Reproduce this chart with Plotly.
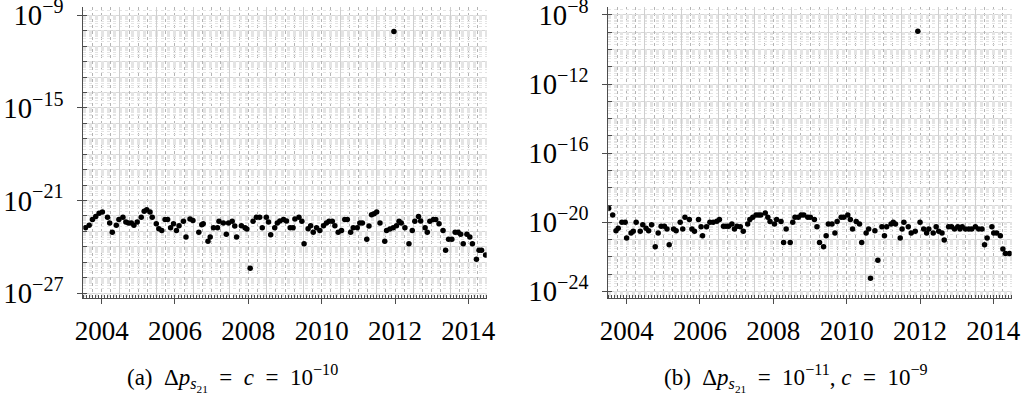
import plotly.graph_objects as go

# ---- data (decimal year, log10 of value) ----
a_years = [2003.56, 2003.66, 2003.75, 2003.84, 2003.93, 2004.02, 2004.16, 2004.22, 2004.29, 2004.40,
           2004.47, 2004.58, 2004.66, 2004.73, 2004.81, 2004.88, 2004.97, 2005.08, 2005.16, 2005.23,
           2005.32, 2005.38, 2005.49, 2005.56, 2005.64, 2005.73, 2005.80, 2005.88, 2005.96, 2006.04,
           2006.11, 2006.23, 2006.30, 2006.41, 2006.49, 2006.65, 2006.73, 2006.77, 2006.90, 2006.96,
           2007.05, 2007.16, 2007.20, 2007.32, 2007.40, 2007.46, 2007.56, 2007.63, 2007.68, 2007.81,
           2007.91, 2007.96, 2008.05, 2008.13, 2008.22, 2008.31, 2008.38, 2008.49, 2008.55, 2008.61,
           2008.72, 2008.79, 2008.86, 2008.96, 2009.04, 2009.14, 2009.22, 2009.27, 2009.38, 2009.46,
           2009.52, 2009.63, 2009.70, 2009.77, 2009.86, 2009.95, 2010.05, 2010.13, 2010.20, 2010.29,
           2010.36, 2010.45, 2010.54, 2010.63, 2010.70, 2010.79, 2010.86, 2010.97, 2011.04, 2011.11,
           2011.23, 2011.29, 2011.36, 2011.43, 2011.50, 2011.59, 2011.72, 2011.77, 2011.86, 2011.95,
           2011.97, 2012.04, 2012.11, 2012.17, 2012.27, 2012.38, 2012.47, 2012.54, 2012.64, 2012.70,
           2012.82, 2012.88, 2012.95, 2013.05, 2013.11, 2013.20, 2013.31, 2013.38, 2013.46, 2013.55,
           2013.64, 2013.72, 2013.79, 2013.86, 2013.96, 2014.04, 2014.11, 2014.22, 2014.29, 2014.36,
           2014.47]
a_log10 = [-22.76, -22.61, -22.23, -22.03, -21.82, -21.75, -22.08, -22.46, -23.06, -22.61,
           -22.23, -22.08, -22.40, -22.46, -22.46, -22.61, -22.40, -22.08, -21.69, -21.60,
           -21.75, -22.08, -22.51, -22.83, -22.94, -22.23, -22.23, -22.76, -22.51, -22.94,
           -22.63, -22.35, -23.37, -22.20, -22.29, -23.06, -22.57, -22.51, -23.65, -23.37,
           -22.76, -22.76, -22.35, -22.46, -23.19, -22.46, -22.35, -22.66, -23.37, -22.63,
           -22.76, -22.85, -25.39, -22.35, -22.08, -22.08, -22.76, -22.08, -22.40, -23.22,
           -22.76, -22.46, -22.33, -22.23, -22.33, -22.76, -22.76, -22.20, -22.08, -22.35,
           -23.80, -22.83, -22.63, -23.06, -22.76, -22.94, -22.63, -22.46, -22.35, -22.35,
           -22.63, -23.06, -22.94, -22.23, -22.23, -23.06, -22.76, -22.76, -22.46, -22.46,
           -23.52, -22.66, -21.92, -21.86, -21.75, -22.46, -23.65, -22.94, -22.85, -22.76,
           -10.05, -22.63, -22.35, -22.46, -22.76, -23.80, -22.94, -22.35, -22.03, -22.33,
           -22.76, -23.06, -22.35, -22.23, -22.23, -22.51, -22.94, -24.23, -23.52, -23.52,
           -23.06, -23.06, -23.19, -23.80, -23.19, -23.37, -23.80, -24.81, -24.23, -24.23,
           -24.53]

b_years = [2003.51, 2003.62, 2003.71, 2003.77, 2003.87, 2003.96, 2004.00, 2004.12, 2004.18, 2004.26,
           2004.37, 2004.44, 2004.53, 2004.60, 2004.68, 2004.78, 2004.86, 2004.94, 2005.03, 2005.10,
           2005.16, 2005.28, 2005.35, 2005.46, 2005.53, 2005.59, 2005.71, 2005.78, 2005.85, 2005.96,
           2006.03, 2006.07, 2006.18, 2006.27, 2006.36, 2006.46, 2006.53, 2006.64, 2006.71, 2006.78,
           2006.87, 2006.94, 2007.01, 2007.10, 2007.18, 2007.30, 2007.36, 2007.44, 2007.53, 2007.60,
           2007.66, 2007.78, 2007.85, 2007.91, 2008.03, 2008.09, 2008.21, 2008.28, 2008.35, 2008.46,
           2008.53, 2008.59, 2008.68, 2008.76, 2008.83, 2008.94, 2009.01, 2009.12, 2009.19, 2009.26,
           2009.37, 2009.44, 2009.50, 2009.60, 2009.68, 2009.74, 2009.85, 2009.92, 2010.03, 2010.10,
           2010.16, 2010.26, 2010.35, 2010.41, 2010.53, 2010.60, 2010.65, 2010.77, 2010.85, 2010.96,
           2011.03, 2011.09, 2011.21, 2011.27, 2011.33, 2011.46, 2011.51, 2011.56, 2011.68, 2011.76,
           2011.87, 2011.94, 2012.00, 2012.10, 2012.18, 2012.24, 2012.36, 2012.44, 2012.51, 2012.60,
           2012.66, 2012.78, 2012.86, 2012.94, 2013.03, 2013.09, 2013.15, 2013.24, 2013.33, 2013.41,
           2013.51, 2013.60, 2013.69, 2013.76, 2013.83, 2013.96, 2014.01, 2014.09, 2014.19, 2014.26,
           2014.33, 2014.44]
b_log10 = [-19.18, -19.57, -20.49, -20.35, -20.00, -20.00, -20.91, -20.62, -20.52, -20.00,
           -20.52, -20.14, -20.35, -20.49, -20.14, -21.42, -20.62, -20.23, -20.23, -20.39,
           -21.30, -20.39, -20.49, -20.00, -20.39, -19.71, -19.84, -20.39, -20.52, -19.84,
           -20.25, -20.78, -20.25, -20.00, -20.00, -19.94, -19.84, -20.23, -20.23, -20.23,
           -20.10, -20.39, -20.23, -20.25, -20.52, -20.10, -19.84, -19.71, -19.57, -19.57,
           -19.57, -19.46, -19.71, -19.96, -20.10, -19.84, -19.96, -21.17, -20.39, -21.17,
           -20.00, -19.71, -19.71, -19.57, -19.57, -19.71, -19.71, -19.84, -20.25, -21.17,
           -21.42, -20.78, -20.10, -20.10, -20.62, -19.96, -19.71, -19.71, -19.57, -19.84,
           -20.39, -19.96, -20.10, -21.17, -20.62, -20.39, -23.24, -20.49, -22.19, -20.25,
           -20.78, -20.25, -20.10, -20.00, -20.10, -20.91, -20.39, -20.00, -20.25, -20.62,
           -20.52, -8.95, -20.00, -20.39, -20.62, -20.39, -20.62, -20.25, -20.52, -20.62,
           -21.03, -20.25, -20.25, -20.39, -20.25, -20.39, -20.25, -20.39, -20.39, -20.39,
           -20.25, -20.39, -20.39, -21.30, -20.91, -20.25, -20.62, -20.62, -20.78, -21.55,
           -21.81, -21.81]

a_values = [10 ** v for v in a_log10]
b_values = [10 ** v for v in b_log10]

SP = "\u2002"  # wider math-like spacing around '='
caption_a = ("(a)" + SP + "Δ<i>p</i><sub><i>s</i><sub>21</sub></sub>" + SP + "=" + SP + "<i>c</i>"
             + SP + "=" + SP + "10<sup>−10</sup>")
caption_b = ("(b)" + SP + "Δ<i>p</i><sub><i>s</i><sub>21</sub></sub>" + SP + "=" + SP
             + "10<sup>−11</sup>, " + "<i>c</i>" + SP + "=" + SP + "10<sup>−9</sup>")

FONT = "Liberation Serif"
W, H = 1024, 396
AX = "#4d4d4d"

fig = go.Figure()
fig.add_trace(go.Scatter(x=a_years, y=a_values, mode="markers", xaxis="x", yaxis="y",
                         marker=dict(color="black", size=5.5, line=dict(width=0)), showlegend=False))
fig.add_trace(go.Scatter(x=b_years, y=b_values, mode="markers", xaxis="x2", yaxis="y2",
                         marker=dict(color="black", size=5.5, line=dict(width=0)), showlegend=False))
# empty traces so that the grid-only overlay axes get drawn
for xa, ya in [("x3", "y"), ("x", "y3"), ("x4", "y2"), ("x2", "y4")]:
    fig.add_trace(go.Scatter(x=[], y=[], xaxis=xa, yaxis=ya, showlegend=False, hoverinfo="skip"))

py0, py1 = (H - 298) / H, (H - 7) / H
xrange_ = [2003.5, 2014.5]


def main_x(domain):
    return dict(domain=domain, range=xrange_, tick0=2004, dtick=2, ticks="outside", ticklen=5,
                tickwidth=1, tickcolor=AX, showline=True, linecolor=AX, linewidth=1.3,
                showgrid=False, zeroline=False, ticklabelstandoff=3, ticklabeloverflow="allow",
                automargin=False,
                tickfont=dict(family=FONT, size=27, color="black"),
                minor=dict(dtick=1 / 12, tick0=2004, ticks="inside", ticklen=3, tickwidth=1,
                           tickcolor=AX, showgrid=False))


def main_y(rng, tick0, dtick, anchor):
    return dict(type="log", domain=[py0, py1], range=rng, tick0=tick0, dtick=dtick, anchor=anchor,
                exponentformat="power", showexponent="all", ticks="outside", ticklen=5, tickwidth=1,
                tickcolor=AX, showline=True, linecolor=AX, linewidth=1.3, showgrid=True,
                gridcolor="#d6d6d6", gridwidth=1, zeroline=False, ticklabelstandoff=9,
                ticklabeloverflow="allow", automargin=False,
                tickfont=dict(family=FONT, size=23, color="black"),
                minor=dict(dtick=1, ticks="inside", ticklen=4, tickwidth=1, tickcolor=AX,
                           showgrid=True, gridcolor="#d6d6d6", gridwidth=1))


def grid_x(over, anchor):
    return dict(overlaying=over, anchor=anchor, range=xrange_, tick0=2003.5, dtick=1,
                showticklabels=False, ticks="", showline=False, zeroline=False, automargin=False,
                showgrid=True, gridcolor="#cfcfcf", gridwidth=1,
                minor=dict(dtick=0.25, tick0=2003.5, ticks="", showgrid=True,
                           gridcolor="#b4b4b4", gridwidth=1, griddash="dot"))


def grid_y(over, anchor, rng):
    return dict(overlaying=over, anchor=anchor, type="log", range=rng, dtick="D1",
                showticklabels=False, ticks="", showline=False, zeroline=False, automargin=False,
                showgrid=True, gridcolor="#e4e4e4", gridwidth=1, griddash="dot")


ra = [-27.32, -8.46]
rb = [-24.38, -7.54]

fig.update_layout(
    width=W, height=H, margin=dict(l=0, r=0, t=0, b=0, autoexpand=False),
    paper_bgcolor="white", plot_bgcolor="white",
    font=dict(family=FONT, color="black"),
    xaxis=dict(main_x([83.3 / W, 486.7 / W]), anchor="y"),
    yaxis=main_y(ra, -9, 6, "x"),
    xaxis2=dict(main_x([608.3 / W, 1011.7 / W]), anchor="y2"),
    yaxis2=main_y(rb, 0, 4, "x2"),
    xaxis3=grid_x("x", "y"),
    yaxis3=grid_y("y", "x", ra),
    xaxis4=grid_x("x2", "y2"),
    yaxis4=grid_y("y2", "x2", rb),
    annotations=[
        dict(text=caption_a, x=232 / W, y=(H - 378) / H, xref="paper", yref="paper",
             xanchor="center", yanchor="middle", showarrow=False,
             font=dict(family=FONT, size=23, color="black")),
        dict(text=caption_b, x=796 / W, y=(H - 378) / H, xref="paper", yref="paper",
             xanchor="center", yanchor="middle", showarrow=False,
             font=dict(family=FONT, size=23, color="black")),
    ],
)

fig.write_html("out.html", config={"displayModeBar": False},
               post_script="document.body.style.margin='0px';document.body.style.padding='0px';")
